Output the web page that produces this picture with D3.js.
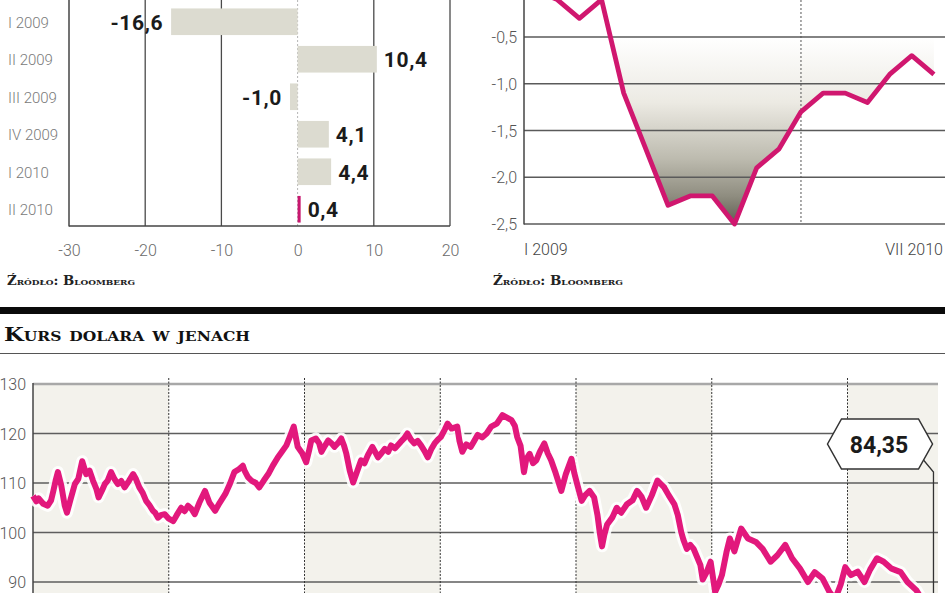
<!DOCTYPE html>
<html><head><meta charset="utf-8">
<script src="https://cdn.jsdelivr.net/npm/d3@7"></script>
<style>html,body{margin:0;padding:0;background:#fff;overflow:hidden}</style>
</head><body><svg id="c" width="948" height="593"></svg>
<script>
// ---------- data ----------
const gdpQuarters = ["I 2009","II 2009","III 2009","IV 2009","I 2010","II 2010"];
const gdpValues = [-16.6, 10.4, -1.0, 4.1, 4.4, 0.4];
const gdpTicks = [-30,-20,-10,0,10,20];

const cpiMonths = ["2009-01","2009-02","2009-03","2009-04","2009-05","2009-06","2009-07","2009-08","2009-09","2009-10","2009-11","2009-12","2010-01","2010-02","2010-03","2010-04","2010-05","2010-06","2010-07"];
const cpiValues = [0.0,-0.1,-0.3,-0.1,-1.1,-1.7,-2.3,-2.2,-2.2,-2.5,-1.9,-1.7,-1.3,-1.1,-1.1,-1.2,-0.9,-0.7,-0.9];
const cpiTicks = [-0.5,-1.0,-1.5,-2.0,-2.5];
const cpiAxisLabels = ["I 2009","VII 2010"];

const sourceText = "Źródło: Bloomberg";
const fxTitle = "Kurs dolara w jenach";
const fxTicks = [130,120,110,100,90];
const fxYearStarts = [0,12,24,36,48,60,72];   // months since I 2004
const fxLastLabel = 84.35;
// [months since Jan 2004, JPY per USD]
const fxSeries = [
[0,107.4],[0.3,106.3],[0.5,106.9],[0.9,105.8],[1.3,105.4],[1.6,106.5],[1.8,108.4],[2.0,110.5],[2.2,112.2],[2.5,109.5],
[2.8,105.5],[3.0,104.0],[3.3,106.5],[3.7,109.8],[4.0,110.8],[4.35,114.4],[4.7,111.8],[5.0,112.5],[5.3,110.5],[5.6,108.8],
[5.8,107.1],[6.1,108.5],[6.35,109.8],[6.6,110.5],[6.9,112.2],[7.2,110.8],[7.5,109.8],[7.8,110.4],[8.1,109.1],[8.5,110.5],
[8.85,111.8],[9.1,110.8],[9.4,109.1],[9.7,108.0],[10.0,106.4],[10.3,105.5],[10.6,104.4],[10.8,104.0],[11.05,103.0],[11.3,103.5],
[11.65,103.7],[12.0,102.8],[12.4,102.3],[12.7,103.5],[13.1,105.0],[13.4,104.3],[13.7,105.4],[14.0,104.8],[14.3,103.7],[14.7,106.0],
[15.2,108.4],[15.6,106.0],[16.1,104.4],[16.5,106.0],[17.0,107.8],[17.4,109.8],[17.8,112.2],[18.2,112.8],[18.55,113.5],[18.7,112.5],
[19.0,111.2],[19.3,110.5],[19.7,110.0],[20.0,109.1],[20.4,110.5],[20.8,111.8],[21.2,113.5],[21.65,115.2],[22.0,116.3],[22.4,117.6],
[22.7,119.3],[23.05,121.4],[23.4,117.3],[23.8,116.0],[24.15,114.2],[24.4,116.5],[24.6,118.6],[25.0,119.0],[25.3,118.0],[25.5,116.3],
[25.8,117.5],[26.1,118.6],[26.4,118.0],[26.65,117.3],[27.0,118.2],[27.25,119.0],[27.5,117.5],[27.7,115.9],[28.0,112.5],[28.3,110.1],
[28.6,112.0],[29.0,114.6],[29.3,114.0],[29.6,115.6],[30.0,117.3],[30.5,115.2],[30.8,116.0],[31.1,116.9],[31.4,116.3],[31.65,117.6],
[32.0,117.0],[32.5,118.3],[32.8,119.0],[33.1,120.0],[33.4,118.8],[33.7,118.0],[34.0,118.5],[34.3,117.6],[34.6,116.5],[34.9,115.2],
[35.2,116.8],[35.5,118.0],[35.8,118.8],[36.05,119.3],[36.4,120.8],[36.65,122.0],[37.0,121.0],[37.5,121.4],[37.7,118.5],[37.95,116.3],
[38.3,117.8],[38.7,117.3],[39.0,118.5],[39.3,119.7],[39.7,119.2],[40.1,120.0],[40.5,121.4],[41.0,122.0],[41.5,123.7],[41.9,123.2],
[42.3,122.7],[42.6,121.5],[42.8,119.3],[43.1,117.5],[43.4,112.2],[43.6,114.8],[43.9,115.9],[44.2,114.0],[44.5,114.6],[44.8,116.3],
[45.2,118.0],[45.5,116.0],[45.8,114.6],[46.2,112.0],[46.7,108.4],[47.1,111.8],[47.6,114.9],[47.85,112.0],[48.1,109.8],[48.5,106.4],
[48.8,107.5],[49.2,108.4],[49.6,107.1],[49.9,103.5],[50.1,100.0],[50.3,97.2],[50.5,99.5],[50.75,101.6],[51.2,103.0],[51.6,105.0],
[52.0,104.0],[52.5,105.7],[53.0,106.5],[53.4,108.4],[53.8,107.2],[54.2,105.0],[54.7,107.5],[55.2,110.5],[55.5,109.8],[55.8,109.1],
[56.2,107.5],[56.7,105.7],[57.0,103.5],[57.3,100.1],[57.5,98.5],[57.8,96.7],[58.1,97.5],[58.4,96.7],[59.0,93.4],[59.2,90.5],
[59.55,92.0],[59.9,94.1],[60.3,88.0],[60.6,89.5],[60.9,91.4],[61.3,96.0],[61.6,98.8],[62.0,96.2],[62.6,100.8],[63.2,98.8],
[63.9,98.1],[64.5,96.7],[65.2,94.1],[65.8,95.4],[66.5,97.5],[67.1,94.8],[67.8,92.7],[68.5,90.0],[69.1,92.0],[69.8,90.7],
[70.4,88.0],[70.9,86.5],[71.4,89.5],[71.8,93.0],[72.3,91.4],[72.9,92.1],[73.5,90.0],[74.0,92.5],[74.6,94.8],[75.2,94.1],
[75.9,92.7],[76.7,92.0],[77.3,90.0],[78.1,88.3],[78.7,86.0],[79.6,84.35]
];

// ---------- helpers ----------
const loc = d3.formatLocale({decimal: ",", thousands: " ", grouping: [3], currency: ["", ""], minus: "-"});
const f1 = loc.format(".1f");
const f2 = loc.format(".2f");
const f0 = loc.format("d");
const svg = d3.select("#c");
const TICKFONT = "Roboto, 'DejaVu Sans', sans-serif";
const SERIF = "'DejaVu Serif', 'Liberation Serif', serif";

// ================= LEFT: bar chart =================
const xG = d3.scaleLinear().domain([-30, 20]).range([69, 450]);
const yG = d3.scaleBand().domain(gdpQuarters).range([3, 228]).paddingInner(0.29).paddingOuter(0.145);
const gL = svg.append("g");
gL.selectAll("line.g").data(gdpTicks.filter(t => t !== -30)).join("line")
  .attr("x1", d => xG(d)).attr("x2", d => xG(d)).attr("y1", 0).attr("y2", 226)
  .attr("stroke", d => d === 0 ? "#b5b5b5" : "#4a4a4a")
  .attr("stroke-width", d => d === 0 ? 1 : 1.3)
  .attr("stroke-dasharray", d => d === 0 ? "2,2" : null);
gL.selectAll("rect.bar").data(gdpValues).join("rect")
  .attr("x", d => xG(Math.min(0, d)))
  .attr("width", d => Math.abs(xG(d) - xG(0)))
  .attr("y", (d, i) => yG(gdpQuarters[i]))
  .attr("height", yG.bandwidth())
  .attr("fill", (d, i) => i === gdpValues.length - 1 ? "#c8176f" : "#dcdbd0");
gL.append("line").attr("x1", xG(-30)).attr("x2", xG(-30)).attr("y1", 0).attr("y2", 226.5).attr("stroke", "#444").attr("stroke-width", 1.5);
gL.append("line").attr("x1", xG(-30)).attr("x2", xG(20)).attr("y1", 226).attr("y2", 226).attr("stroke", "#444").attr("stroke-width", 1.5);
gL.selectAll("text.val").data(gdpValues).join("text")
  .attr("x", d => d < 0 ? xG(d) - 8 : xG(d) + 7)
  .attr("y", (d, i) => yG(gdpQuarters[i]) + yG.bandwidth() / 2 + 8)
  .attr("text-anchor", d => d < 0 ? "end" : "start")
  .attr("font-family", TICKFONT).attr("font-weight", 700).attr("font-size", 21)
  .attr("letter-spacing", 0.6)
  .attr("fill", "#1b1b1b")
  .text(d => f1(d));
gL.selectAll("text.cat").data(gdpQuarters).join("text")
  .attr("x", 8).attr("y", d => yG(d) + yG.bandwidth() / 2 + 6)
  .attr("font-family", TICKFONT).attr("font-weight", 300).attr("font-size", 15)
  .attr("fill", "#7a7a7a").text(d => d);
const axG = d3.axisBottom(xG).tickValues(gdpTicks).tickSize(0).tickFormat(d => f0(d));
const axGg = gL.append("g").attr("transform", "translate(0,226)").call(axG);
axGg.select(".domain").remove();
axGg.selectAll("text").attr("y", 30).attr("dy", null)
  .attr("font-family", TICKFONT).attr("font-weight", 300).attr("font-size", 16).attr("fill", "#6a6a6a");
gL.append("text").attr("x", 7).attr("y", 285).attr("font-family", SERIF).attr("font-weight", 700)
  .attr("font-size", 12).style("font-variant", "small-caps").attr("fill", "#222")
  .attr("textLength", 128).attr("lengthAdjust", "spacingAndGlyphs").text(sourceText);

// ================= RIGHT: CPI line =================
const xC = d3.scalePoint().domain(cpiMonths).range([524, 945]).padding(0.5);
const yC = d3.scaleLinear().domain([-2.5, 0]).range([224, -9.75]);
const gR = svg.append("g");
const defs = svg.append("defs");
const grad = defs.append("linearGradient").attr("id", "cpiGrad").attr("gradientUnits", "userSpaceOnUse")
  .attr("x1", 0).attr("x2", 0).attr("y1", yC(-0.5)).attr("y2", yC(-2.5));
[[0, "#ffffff"], [0.35, "#eceae3"], [0.65, "#bdbbaf"], [0.85, "#8f8d80"], [1, "#5e5c50"]]
  .forEach(([o, c]) => grad.append("stop").attr("offset", o).attr("stop-color", c));
const cpiData = cpiMonths.map((m, i) => ({m, v: cpiValues[i]}));
gR.append("path").datum(cpiData)
  .attr("d", d3.area().x(d => xC(d.m)).y0(-20).y1(d => yC(d.v)))
  .attr("fill", "url(#cpiGrad)");
gR.selectAll("line.g").data(cpiTicks).join("line")
  .attr("x1", 524).attr("x2", 945).attr("y1", d => yC(d)).attr("y2", d => yC(d))
  .attr("stroke", "#5a5a5a").attr("stroke-width", d => d === -2.5 ? 1.6 : 1.3);
gR.append("line").attr("x1", xC("2010-01")).attr("x2", xC("2010-01")).attr("y1", 0).attr("y2", 224)
  .attr("stroke", "#555").attr("stroke-width", 1).attr("stroke-dasharray", "2,2");
gR.append("line").attr("x1", 524).attr("x2", 524).attr("y1", 0).attr("y2", 224.5).attr("stroke", "#444").attr("stroke-width", 1.5);
gR.append("path").datum(cpiData)
  .attr("d", d3.line().x(d => xC(d.m)).y(d => yC(d.v)))
  .attr("fill", "none").attr("stroke", "#d0176f").attr("stroke-width", 4.8).attr("stroke-linejoin", "round");
gR.selectAll("text.yt").data(cpiTicks).join("text")
  .attr("x", 517).attr("y", d => yC(d) + 6).attr("text-anchor", "end")
  .attr("font-family", TICKFONT).attr("font-weight", 300).attr("font-size", 16).attr("fill", "#555")
  .text(d => f1(d));
gR.selectAll("text.xt").data(cpiAxisLabels).join("text")
  .attr("x", (d, i) => i === 0 ? 524 : 943).attr("y", 255)
  .attr("text-anchor", (d, i) => i === 0 ? "start" : "end")
  .attr("font-family", TICKFONT).attr("font-weight", 300).attr("font-size", 16).attr("fill", "#444")
  .text(d => d);
gR.append("text").attr("x", 493).attr("y", 285).attr("font-family", SERIF).attr("font-weight", 700)
  .attr("font-size", 12).style("font-variant", "small-caps").attr("fill", "#222")
  .attr("textLength", 130).attr("lengthAdjust", "spacingAndGlyphs").text(sourceText);

// ================= BOTTOM: USD/JPY =================
const gB = svg.append("g");
gB.append("rect").attr("x", 0).attr("y", 307).attr("width", 945).attr("height", 7).attr("fill", "#0a0a0a");
gB.append("line").attr("x1", 0).attr("x2", 945).attr("y1", 353.5).attr("y2", 353.5).attr("stroke", "#555").attr("stroke-width", 1.2);
gB.append("text").attr("x", 4).attr("y", 341).attr("font-family", SERIF).attr("font-weight", 700)
  .attr("font-size", 19).style("font-variant", "small-caps").attr("fill", "#111")
  .attr("textLength", 246).attr("lengthAdjust", "spacingAndGlyphs").text(fxTitle);

const xF = d3.scaleLinear().domain([0, 80]).range([33, 938]);
const yF = d3.scaleLinear().domain([80, 130]).range([631.5, 384]);
gB.selectAll("rect.band").data(fxYearStarts.filter((d, i) => i % 2 === 0)).join("rect")
  .attr("x", d => xF(d)).attr("width", d => xF(Math.min(d + 12, 80)) - xF(d))
  .attr("y", yF(130)).attr("height", 300).attr("fill", "#f3f2ec");
gB.selectAll("line.hg").data(fxTicks.filter(t => t !== 130)).join("line")
  .attr("x1", 33).attr("x2", 938).attr("y1", d => yF(d)).attr("y2", d => yF(d))
  .attr("stroke", "#5e5e5e").attr("stroke-width", 1.4);
gB.append("line").attr("x1", 33).attr("x2", 938).attr("y1", yF(130)).attr("y2", yF(130))
  .attr("stroke", "#a8a8a8").attr("stroke-width", 2.5);
gB.selectAll("line.vg").data(fxYearStarts.filter(d => d > 0)).join("line")
  .attr("x1", d => xF(d)).attr("x2", d => xF(d)).attr("y1", 378).attr("y2", 640)
  .attr("stroke", "#333").attr("stroke-width", 1).attr("stroke-dasharray", "2,1.5");
gB.append("line").attr("x1", 33).attr("x2", 33).attr("y1", 383).attr("y2", 640).attr("stroke", "#444").attr("stroke-width", 1.5);
gB.selectAll("text.yt").data(fxTicks).join("text")
  .attr("x", 26).attr("y", d => yF(d) + 6).attr("text-anchor", "end")
  .attr("font-family", TICKFONT).attr("font-weight", 300).attr("font-size", 16).attr("fill", "#555")
  .text(d => f0(d));
const fxLine = d3.line().x(d => xF(d[0])).y(d => yF(d[1]));
gB.append("path").datum(fxSeries).attr("d", fxLine).attr("fill", "none")
  .attr("stroke", "#ffffff").attr("stroke-width", 12).attr("stroke-linejoin", "round").attr("stroke-opacity", 0.9);
gB.append("path").datum(fxSeries).attr("d", fxLine).attr("fill", "none")
  .attr("stroke", "#e2187c").attr("stroke-width", 6).attr("stroke-linejoin", "round");
const last = fxSeries[fxSeries.length - 1];
const lx = xF(last[0]);
const cx = 880, cy = 444, hw = 52.5, hh = 25, ins = 14;
gB.append("path")
  .attr("d", `M${lx},${yF(fxLastLabel)}L${lx},${cy + 28}L${cx + hw - 9},${cy + 16}`)
  .attr("fill", "none").attr("stroke", "#333").attr("stroke-width", 1.3);
gB.append("path")
  .attr("d", `M${cx - hw},${cy}L${cx - hw + ins},${cy - hh}L${cx + hw - ins},${cy - hh}L${cx + hw},${cy}L${cx + hw - ins},${cy + hh}L${cx - hw + ins},${cy + hh}Z`)
  .attr("fill", "#fff").attr("stroke", "#333").attr("stroke-width", 1.5);
gB.append("text").attr("x", cx - 1).attr("y", cy + 9).attr("text-anchor", "middle")
  .attr("font-family", TICKFONT).attr("font-weight", 700).attr("font-size", 23).attr("fill", "#1b1b1b")
  .text(f2(fxLastLabel));
</script></body></html>
